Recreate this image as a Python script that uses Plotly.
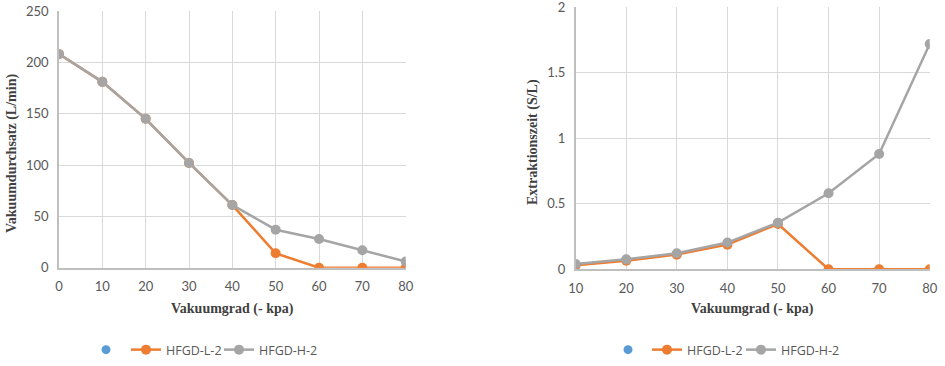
import plotly.graph_objects as go

# Left chart data
x_left = [0, 10, 20, 30, 40, 50, 60, 70, 80]
left_L = [208, 181, 145, 102, 61, 14, 0, 0, 0]
left_H = [208, 181, 145, 102, 61, 37, 28, 17, 6]
yticks_left = [0, 50, 100, 150, 200, 250]

# Right chart data
x_right = [10, 20, 30, 40, 50, 60, 70, 80]
right_L = [0.03, 0.066, 0.112, 0.188, 0.346, 0, 0, 0]
right_H = [0.04, 0.076, 0.122, 0.204, 0.356, 0.58, 0.88, 1.72]
yticks_right = [0, 0.5, 1, 1.5, 2]

names = ["HFGD-L-2", "HFGD-H-2"]
colors = ["#ED7D31", "#A5A5A5"]
BLUE = "#5B9BD5"

fig = go.Figure()

# legend positions (px of left edge) for each entry: blue, L, H
legend_px = {"left": [86, 126, 219], "right": [608, 647, 741]}
legend_names = []

def add_series(xs, ys_list, xa, ya, side, start_idx):
    idx = start_idx
    lg = "legend" if idx == 1 else f"legend{idx}"
    fig.add_trace(go.Scatter(x=[None], y=[None], mode="markers", name="",
                             marker=dict(color=BLUE, size=9), xaxis=xa, yaxis=ya,
                             legend=lg, showlegend=True))
    legend_names.append((lg, legend_px[side][0]))
    for k, (ys, n, c) in enumerate(zip(ys_list, names, colors)):
        idx += 1
        lg = f"legend{idx}"
        fig.add_trace(go.Scatter(x=xs, y=ys, mode="lines+markers", name=n,
                                 line=dict(color=c, width=2.5),
                                 marker=dict(color=c, size=10),
                                 xaxis=xa, yaxis=ya, legend=lg))
        legend_names.append((lg, legend_px[side][k + 1]))
    return idx + 1

nxt = add_series(x_left, [left_L, left_H], "x", "y", "left", 1)
add_series(x_right, [right_L, right_H], "x2", "y2", "right", nxt)

tickfont = dict(family="Lato", size=13, color="#595959")
grid = "#D9D9D9"
common_axis = dict(showgrid=True, gridcolor=grid, gridwidth=1, zeroline=False,
                   tickfont=tickfont, showline=True, linecolor="#BFBFBF", linewidth=1.5,
                   ticks="", automargin=False, ticklabelstandoff=6,
                   ticklabeloverflow="allow")

layout = dict(
    width=945, height=366,
    margin=dict(l=0, r=0, t=0, b=0, autoexpand=False),
    paper_bgcolor="white", plot_bgcolor="white",
    xaxis=dict(domain=[59/945, 405.7/945], range=[0, 80], tickvals=x_left,
               anchor="y", **common_axis),
    yaxis=dict(domain=[1-267.7/366, 1-11/366], range=[0, 250], tickvals=yticks_left,
               anchor="x", **common_axis),
    xaxis2=dict(domain=[575.7/945, 929.7/945], range=[10, 80], tickvals=x_right,
                anchor="y2", **common_axis),
    yaxis2=dict(domain=[1-269.3/366, 1-7.3/366], range=[0, 2], tickvals=yticks_right,
                anchor="x2", **common_axis),
    showlegend=True,
)
for lg, px in legend_names:
    layout[lg] = dict(orientation="h", x=px/945, y=1-350/366, xanchor="left", yanchor="middle",
                      font=dict(family="Open Sans", size=12.5, color="#595959"),
                      itemwidth=30, bgcolor="rgba(0,0,0,0)")
fig.update_layout(**layout)

titlefont = dict(family="Liberation Serif", size=14, color="#404040")
fig.add_annotation(text="<b>Vakuumgrad (- kpa)</b>", xref="paper", yref="paper",
                   x=(59+405.7)/2/945, y=1-309/366, showarrow=False, font=titlefont,
                   xanchor="center", yanchor="middle")
fig.add_annotation(text="<b>Vakuumgrad (- kpa)</b>", xref="paper", yref="paper",
                   x=(575.7+929.7)/2/945, y=1-309/366, showarrow=False, font=titlefont,
                   xanchor="center", yanchor="middle")
fig.add_annotation(text="<b>Vakuumdurchsatz (L/min)</b>", xref="paper", yref="paper",
                   x=12/945, y=1-154/366, showarrow=False, font=titlefont,
                   textangle=-90, xanchor="center", yanchor="middle")
fig.add_annotation(text="<b>Extraktionszeit (S/L)</b>", xref="paper", yref="paper",
                   x=533/945, y=1-142/366, showarrow=False, font=titlefont,
                   textangle=-90, xanchor="center", yanchor="middle")

fig.write_html("out.html", config={"displayModeBar": False},
               post_script="document.body.style.margin='0';document.body.style.overflow='hidden';")
